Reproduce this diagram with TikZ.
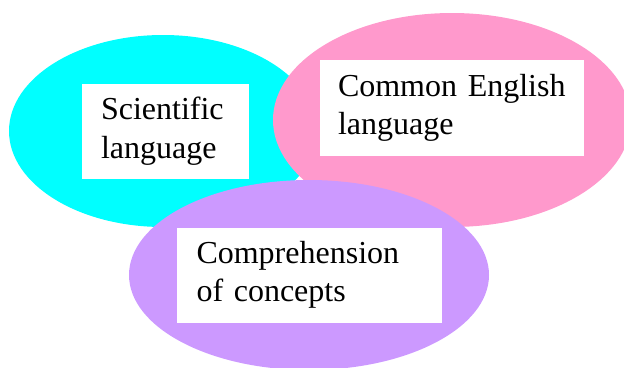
\documentclass[tikz,border=0pt]{standalone}
\usepackage{fontspec}
\setmainfont{Liberation Serif}
\usepackage{tikz}
\usetikzlibrary{shapes,shapes.geometric}
\usetikzlibrary{positioning}
\definecolor{cyanfill}{HTML}{00FFFF}
\definecolor{pinkfill}{HTML}{FF99CC}
\definecolor{lilacfill}{HTML}{CC99FF}
\tikzstyle{blob} = [ellipse, draw=none, inner sep=0pt]
\tikzstyle{textbox} = [rectangle, fill=white, draw=none, align=left,
    font=\fontsize{32}{38.5}\selectfont, minimum height=95pt, inner ysep=0pt]

\begin{document}
\begin{tikzpicture}[x=1pt,y=-1pt]
\useasboundingbox (0,0) rectangle (624,367);
\clip (0,0) rectangle (624,367);

% Define the three ellipses
\node [blob, fill=cyanfill, minimum width=308pt, minimum height=192pt] (sci) at (163,131) {};
\node [blob, fill=pinkfill, minimum width=358pt, minimum height=214pt] (eng) at (452,120) {};
\node [blob, fill=lilacfill, minimum width=360pt, minimum height=190pt] (comp) at (309,275) {};

\node [textbox, text width=129pt, inner xsep=19pt] (scitext) at ([xshift=2.5pt]sci.center) {Scientific\\language};
\node [textbox, text width=228pt, inner xsep=18pt, minimum height=96pt] (engtext) at ([yshift=12pt]eng.center) {Common English\\language};
\node [textbox, text width=225pt, inner xsep=20pt] (comptext) at (comp.center) {Comprehension\\of concepts};

\end{tikzpicture}
\end{document}
